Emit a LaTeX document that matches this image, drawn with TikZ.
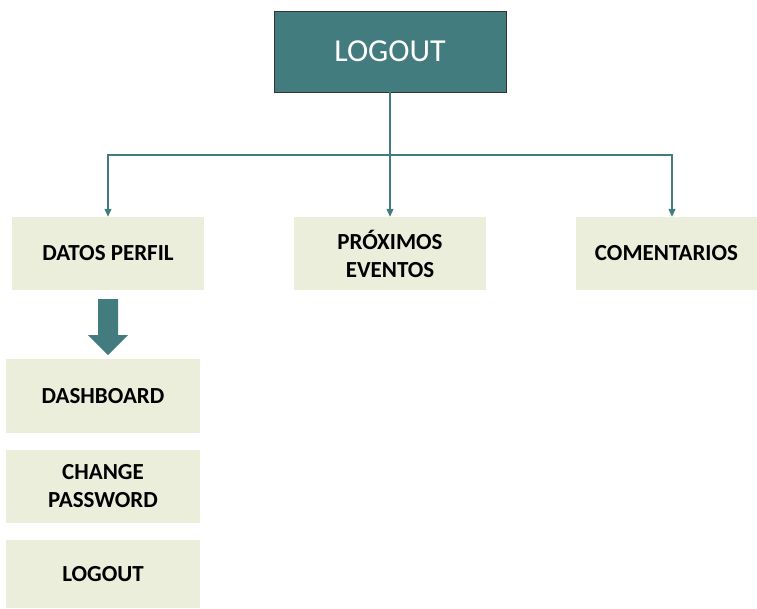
\documentclass[tikz,border=0pt]{standalone}
\usepackage{fontspec}
\setmainfont{Carlito}
\usetikzlibrary{arrows.meta}

\definecolor{tealbox}{HTML}{427C7F}
\definecolor{paleitem}{HTML}{EAEEDA}

\tikzset{
  topbox/.style={draw=black!80, line width=0.8pt, fill=tealbox, text=white,
    minimum width=232pt, minimum height=81pt, inner sep=0pt,
    font=\fontsize{32}{36}\selectfont},
  itembox/.style={fill=paleitem, minimum width=192pt, minimum height=73pt,
    inner sep=0pt, align=center, font=\bfseries\fontsize{23}{28}\selectfont},
  conn/.style={draw=tealbox, line width=1.1pt, -{Triangle[width=7pt,length=8pt]}},
}

\begin{document}
\begin{tikzpicture}[x=1pt,y=-1pt]
\useasboundingbox (0,0) rectangle (757,608);

% nodo superior
\node[topbox] (logout) at (390,51.5) {LOGOUT};

% primer nivel
\node[itembox] (perfil) at (108,253.5) {DATOS PERFIL};
\node[itembox] (proximos) at (390,253.5) {PRÓXIMOS\\EVENTOS};
\node[itembox, minimum width=181pt] (comentarios) at (666.5,253.5) {COMENTARIOS};

% conectores
\coordinate (bus) at (390,155);
\draw[conn] (logout.south) -- (proximos.north);
\draw[conn] (bus) -| (perfil.north);
\draw[conn] (bus) -| (comentarios.north -| 672,0);

% flecha de bloque
\fill[tealbox] (98,299) -- (118,299) -- (118,335) -- (128,335) -- (108,355)
  -- (88,335) -- (98,335) -- cycle;

% submenu de datos perfil
\node[itembox, minimum width=194pt, minimum height=74pt] (dashboard) at (103,396) {DASHBOARD};
\node[itembox, minimum width=194pt] (password) at (103,486.5) {CHANGE\\PASSWORD};
\node[itembox, minimum width=194pt, minimum height=68pt] (salir) at (103,574) {LOGOUT};
\end{tikzpicture}
\end{document}
